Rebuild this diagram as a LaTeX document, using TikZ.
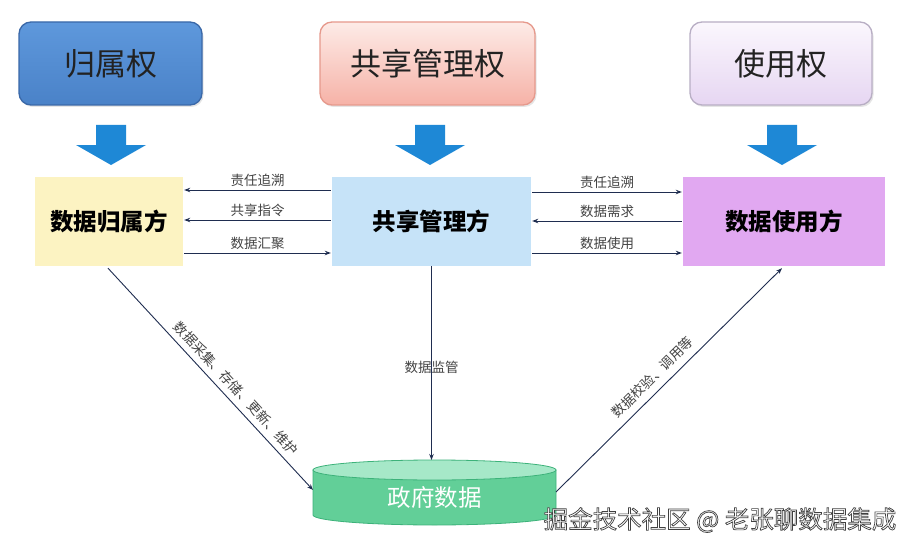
\documentclass[tikz,border=0pt]{standalone}
\usepackage{fontspec}
\setmainfont{Noto Sans CJK SC}
\usetikzlibrary{arrows.meta,shadows,calc}
\definecolor{ownA}{HTML}{5E98DC}
\definecolor{ownB}{HTML}{4A82C8}
\definecolor{ownD}{HTML}{3A68A8}
\definecolor{shA}{HTML}{FDEBE7}
\definecolor{shB}{HTML}{F6B2A7}
\definecolor{shD}{HTML}{E6998C}
\definecolor{usA}{HTML}{FBF7FD}
\definecolor{usB}{HTML}{E6D6F2}
\definecolor{usD}{HTML}{B8AEC4}
\definecolor{yel}{HTML}{FCF3C2}
\definecolor{lblue}{HTML}{C6E3F8}
\definecolor{purp}{HTML}{E1A8F1}
\definecolor{barrow}{HTML}{1E88D6}
\definecolor{navy}{HTML}{1F2D50}
\definecolor{cylside}{HTML}{62CF98}
\definecolor{cyledge}{HTML}{3DB27A}
\definecolor{cyltop}{HTML}{A6E8C8}
\definecolor{txt}{HTML}{222222}
\tikzset{
  topbox/.style={rounded corners=12pt, line width=1.3pt, minimum height=83pt,
    font=\fontsize{31}{33}\selectfont, text=txt,
    drop shadow={opacity=0.2, shadow xshift=1.5pt, shadow yshift=-2pt}},
  midbox/.style={minimum height=89pt, font=\fontsize{23.5}{25}\selectfont\bfseries, text=black},
  conn/.style={draw=navy, line width=0.9pt, -{Stealth[length=6pt,width=4.5pt]}},
  lbl/.style={font=\fontsize{13.5}{14}\selectfont, text=txt!85, inner sep=1pt},
  blockarrow/.style={fill=barrow}
}
\begin{document}
\begin{tikzpicture}[x=1pt,y=-1pt]
\useasboundingbox (0,0) rectangle (914,551);
\fill[white] (0,0) rectangle (914,551);

% top boxes
\node[topbox, minimum width=183pt, top color=ownA, bottom color=ownB, draw=ownD] (own) at (110.5,63.5) {归属权};
\node[topbox, minimum width=215pt, top color=shA, bottom color=shB, draw=shD] (share) at (427.5,63.5) {共享管理权};
\node[topbox, minimum width=182pt, top color=usA, bottom color=usB, draw=usD] (use) at (781,63.5) {使用权};

% block arrows
\foreach \cx in {111,430,782}{
  \fill[blockarrow] (\cx-15,125) -- (\cx+15,125) -- (\cx+15,145) -- (\cx+35,145)
    -- (\cx,165) -- (\cx-35,145) -- (\cx-15,145) -- cycle;
}

% middle boxes
\node[midbox, minimum width=148pt, fill=yel] (owner) at (109,221.5) {数据归属方};
\node[midbox, minimum width=199pt, fill=lblue] (mgr) at (431.5,221.5) {共享管理方};
\node[midbox, minimum width=202pt, fill=purp] (user) at (784,221.5) {数据使用方};

% left horizontal connectors
\draw[conn] ($(mgr.west)+(-1,-31.5)$) -- node[lbl, above=2pt] {责任追溯} ($(owner.east)+(1,-31.5)$);
\draw[conn] ($(mgr.west)+(-1,-1.5)$) -- node[lbl, above=2pt] {共享指令} ($(owner.east)+(1,-1.5)$);
\draw[conn] ($(owner.east)+(1,31.5)$) -- node[lbl, above=2pt] {数据汇聚} ($(mgr.west)+(-1,31.5)$);

% right horizontal connectors
\draw[conn] ($(mgr.east)+(1,-29.5)$) -- node[lbl, above=2pt] {责任追溯} ($(user.west)+(-1,-29.5)$);
\draw[conn] ($(user.west)+(-1,-0.5)$) -- node[lbl, above=2pt] {数据需求} ($(mgr.east)+(1,-0.5)$);
\draw[conn] ($(mgr.east)+(1,31.5)$) -- node[lbl, above=2pt] {数据使用} ($(user.west)+(-1,31.5)$);

% cylinder
\path[fill=cylside, draw=cyledge, line width=0.8pt] (313,470) -- (313,515)
  arc[start angle=180, end angle=0, x radius=121.5, y radius=10] -- (556,470) -- cycle;
\draw[fill=cyltop, draw=cyledge, line width=0.8pt] (434.5,470) ellipse [x radius=121.5, y radius=10];
\node[font=\fontsize{23.5}{25}\selectfont, text=white] (gov) at (434.5,498) {政府数据};
\coordinate (govL) at (313,490);
\coordinate (govT) at (431.5,460);
\coordinate (govR) at (556,492);

% diagonal / vertical connectors
\draw[conn] ($(owner.south)+(-1,2)$) -- node[lbl, sloped, above=5pt, pos=0.58] {数据采集、存储、更新、维护} (govL);
\draw[conn] (mgr.south) -- node[lbl, pos=0.52] {数据监管} (govT);
\draw[conn] (govR) -- node[lbl, sloped, above=6pt, pos=0.47] {数据校验、调用等} ($(user.south)+(-2,2)$);

% watermark (white fill, dark outline)
\node[font=\fontsize{24.5}{26}\selectfont, text=white] (wm) at (720,520)
  {\special{pdf:literal direct 2 Tr 0.7 w 0.25 G}掘金技术社区 @ 老张聊数据集成\special{pdf:literal direct 0 Tr}};
\end{tikzpicture}
\end{document}
